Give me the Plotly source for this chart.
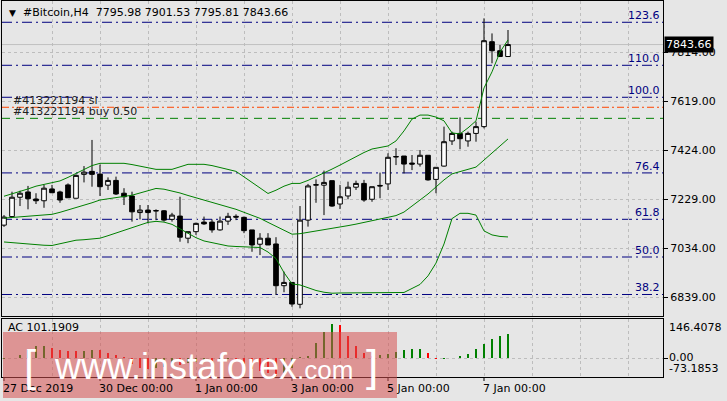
import plotly.graph_objects as go

# ---------------- data ----------------
bar_index = list(range(64))
opens = [7125, 7159, 7236, 7257, 7229, 7222, 7269, 7257, 7285, 7232,
         7327, 7339, 7328, 7284, 7303, 7252, 7241, 7175, 7185, 7181,
         7182, 7148, 7161, 7073, 7099, 7137, 7137, 7106, 7141, 7160,
         7156, 7106, 7049, 7073, 7050, 6884, 6897, 6810, 7145, 7284,
         7284, 7302, 7209, 7241, 7276, 7291, 7228, 7283, 7289, 7396,
         7400, 7372, 7368, 7403, 7307, 7360, 7460, 7490, 7460, 7490,
         7517, 7855, 7819, 7795.98]
highs = [7165, 7258, 7262, 7281, 7252, 7285, 7285, 7262, 7291, 7327,
         7360, 7464, 7366, 7315, 7318, 7272, 7258, 7205, 7205, 7188,
         7185, 7174, 7238, 7099, 7135, 7159, 7148, 7159, 7174, 7168,
         7159, 7106, 7093, 7093, 7077, 6940, 6897, 7201, 7289, 7307,
         7342, 7302, 7285, 7298, 7302, 7305, 7278, 7334, 7411, 7431,
         7400, 7404, 7424, 7403, 7355, 7517, 7497, 7554, 7497, 7537,
         7948, 7888, 7842, 7901.53]
lows = [7118, 7157, 7201, 7188, 7209, 7194, 7254, 7214, 7234, 7232,
        7295, 7278, 7241, 7265, 7245, 7205, 7139, 7148, 7132, 7145,
        7139, 7139, 7059, 7053, 7086, 7126, 7095, 7103, 7126, 7145,
        7093, 7019, 7006, 7046, 6847, 6858, 6800, 6794, 7119, 7214,
        7165, 7198, 7189, 7228, 7265, 7218, 7218, 7232, 7265, 7364,
        7331, 7344, 7358, 7302, 7252, 7358, 7444, 7427, 7437, 7457,
        7510, 7769, 7795, 7795.81]
closes = [7157, 7236, 7252, 7230, 7222, 7272, 7254, 7225, 7234, 7323,
          7336, 7327, 7278, 7303, 7249, 7238, 7178, 7185, 7175, 7183,
          7145, 7165, 7077, 7099, 7132, 7130, 7106, 7141, 7160, 7157,
          7103, 7046, 7073, 7046, 6884, 6897, 6811, 7145, 7281, 7286,
          7295, 7201, 7238, 7276, 7291, 7225, 7278, 7281, 7395, 7398,
          7368, 7368, 7403, 7305, 7355, 7457, 7490, 7469, 7490, 7517,
          7859, 7819, 7796, 7843.66]

bb_upper = [7240, 7249, 7258, 7269, 7280, 7287, 7294, 7301, 7315, 7330,
            7346, 7362, 7371, 7371, 7371, 7371, 7366, 7359, 7352, 7347,
            7347, 7347, 7357, 7367, 7367, 7367, 7362, 7355, 7348, 7339,
            7317, 7295, 7270, 7251, 7264, 7280, 7291, 7291, 7303, 7317,
            7332, 7348, 7364, 7381, 7398, 7414, 7428, 7434, 7440, 7460,
            7500, 7547, 7563, 7563, 7555, 7540, 7492, 7488, 7512, 7540,
            7671, 7735, 7814, 7862]
bb_middle = [7153, 7155, 7158, 7160, 7162, 7164, 7168, 7176, 7185, 7194,
             7204, 7214, 7225, 7230, 7235, 7239, 7244, 7253, 7262, 7271,
             7268, 7262, 7253, 7243, 7234, 7225, 7216, 7208, 7198, 7188,
             7176, 7165, 7152, 7136, 7120, 7105, 7089, 7091, 7096, 7100,
             7105, 7111, 7117, 7123, 7129, 7136, 7142, 7148, 7154, 7163,
             7177, 7201, 7225, 7249, 7277, 7305, 7329, 7337, 7346, 7356,
             7384, 7412, 7440, 7468]
bb_lower = [7058, 7055, 7053, 7050, 7048, 7045, 7044, 7051, 7057, 7065,
            7067, 7070, 7073, 7083, 7093, 7103, 7114, 7125, 7136, 7140,
            7137, 7128, 7110, 7091, 7075, 7062, 7055, 7048, 7042, 7040,
            7039, 7037, 7036, 7018, 6992, 6936, 6891, 6887, 6876, 6865,
            6858, 6854, 6855, 6855, 6855, 6855, 6855, 6855, 6855, 6855,
            6857, 6873, 6889, 6923, 6974, 7050, 7151, 7172, 7172, 7165,
            7102, 7086, 7080, 7078]

ac_values = [-5, 3, 16, 33, 51, 52, 45, 33, 31, 29,
             32, 37, 35, 23, 13, 5, -24, -40, -45, -42,
             -37, -24, -28, -20, -15, -10, -12, -8, -5, -10,
             -25, -45, -55, -60, -73.1853, -60, -40, 5, 8, 63,
             112, 146.4078, 139, 93, 51, 24, 10, 12, 18, 28,
             35, 39, 40, 21, -4, -2, 0.5, 10, 18, 39,
             60, 82, 95, 101.1909]

price_ticks = [6839, 7034, 7229, 7424, 7619, 7814]
price_tick_labels = ["6839.00", "7034.00", "7229.00", "7424.00", "7619.00", "7814.00"]

fib_levels = [7932.3, 7761.1, 7633.8, 7332.8, 7148.2, 6998.2, 6849.0]
fib_labels = ["123.6", "110.0", "100.0", "76.4", "61.8", "50.0", "38.2"]

order_sl_price = 7594
order_buy_price = 7550
order_sl_text = "#413221194 sl"
order_buy_text = "#413221194 buy 0.50"

date_tick_index = [0, 12, 24, 36, 48, 60]
date_tick_labels = ["27 Dec 2019", "30 Dec 00:00", "1 Jan 00:00", "3 Jan 00:00",
                    "5 Jan 00:00", "7 Jan 00:00"]
grid_index = [6, 12, 18, 24, 30, 36, 42, 48, 54, 60, 66, 72, 78]

symbol_text = "#Bitcoin,H4"
last_ohlc = ["7795.98", "7901.53", "7795.81", "7843.66"]
last_price = 7843.66
ac_name = "AC"
ac_current = "101.1909"
ac_scale_labels = ["146.4078", "0.00", "-73.1853"]

# ---------------- geometry ----------------
W, H = 727, 401
ML, MR, MT, MB = 2, 64, 1, 24
PW, PH = W - ML - MR, H - MT - MB


def px_x(p):
    return (p - ML) / PW


def px_y(p):
    return (H - MB - p) / PH


BG = "#E6E6E6"
GRID = "#BDBDBD"
NAVY = "#000080"
FONT = "DejaVu Sans"

fig = go.Figure()

fig.add_trace(go.Candlestick(
    x=bar_index, open=opens, high=highs, low=lows, close=closes,
    increasing=dict(fillcolor="white", line=dict(color="black", width=1)),
    decreasing=dict(fillcolor="black", line=dict(color="black", width=1)),
    whiskerwidth=0, xaxis="x", yaxis="y", showlegend=False, hoverinfo="skip"))

for band in (bb_upper, bb_middle, bb_lower):
    fig.add_trace(go.Scatter(x=bar_index, y=band, mode="lines",
                             line=dict(color="#008000", width=1),
                             xaxis="x", yaxis="y", showlegend=False, hoverinfo="skip"))

ac_colors = ["#008000"] + ["#008000" if ac_values[k] > ac_values[k - 1] else "#FF0000"
                           for k in range(1, len(ac_values))]
fig.add_trace(go.Bar(x=bar_index, y=ac_values, marker=dict(color=ac_colors, line=dict(width=0)),
                     width=0.14, xaxis="x2", yaxis="y2", showlegend=False, hoverinfo="skip"))

shapes = []
shapes.append(dict(type="line", xref="x domain", x0=0, x1=1, yref="y", y0=last_price, y1=last_price,
                   line=dict(color="#C0C0C0", width=1), layer="below"))
for lv in fib_levels:
    shapes.append(dict(type="line", xref="x domain", x0=0, x1=1, yref="y", y0=lv, y1=lv,
                       line=dict(color=NAVY, width=1, dash="10px,4px,2px,4px"), layer="below"))
shapes.append(dict(type="line", xref="x domain", x0=0, x1=1, yref="y",
                   y0=order_sl_price, y1=order_sl_price,
                   line=dict(color="#FF4500", width=1, dash="7px,3px,2px,3px"), layer="below"))
shapes.append(dict(type="line", xref="x domain", x0=0, x1=1, yref="y",
                   y0=order_buy_price, y1=order_buy_price,
                   line=dict(color="#008000", width=1, dash="8px,6px"), layer="below"))
for xi in date_tick_index:
    shapes.append(dict(type="line", xref="x2", x0=xi, x1=xi, yref="paper", y0=0, y1=-4 / PH,
                       line=dict(color="black", width=1)))
shapes.append(dict(type="rect", xref="paper", yref="paper",
                   x0=px_x(3), x1=px_x(397), y0=px_y(398), y1=px_y(332),
                   fillcolor="rgba(214,80,80,0.55)", line=dict(width=0), layer="above"))

ann = []
ann.append(dict(xref="paper", yref="paper", x=px_x(7), y=px_y(13), text="▼", showarrow=False,
                xanchor="left", yanchor="middle", font=dict(family=FONT, size=9, color="black")))
ann.append(dict(xref="paper", yref="paper", x=px_x(21), y=px_y(13),
                text=symbol_text + "\u00a0\u00a0" + " ".join(last_ohlc), showarrow=False,
                xanchor="left", yanchor="middle", font=dict(family=FONT, size=11, color="black")))
for lv, lab in zip(fib_levels, fib_labels):
    ann.append(dict(xref="paper", yref="y", x=px_x(662), y=lv, text=lab, showarrow=False,
                    xanchor="right", yanchor="bottom", yshift=-2,
                    font=dict(family=FONT, size=11, color=NAVY)))
ann.append(dict(xref="paper", yref="y", x=px_x(11), y=order_sl_price, text=order_sl_text,
                showarrow=False, xanchor="left", yanchor="bottom", yshift=-2,
                font=dict(family=FONT, size=11, color="#202020")))
ann.append(dict(xref="paper", yref="y", x=px_x(11), y=order_buy_price, text=order_buy_text,
                showarrow=False, xanchor="left", yanchor="bottom", yshift=-2,
                font=dict(family=FONT, size=11, color="#202020")))
ann.append(dict(xref="paper", yref="y", x=px_x(664), y=last_price, text=last_ohlc[3],
                showarrow=False, xanchor="left", yanchor="middle", bgcolor="black", borderpad=1,
                font=dict(family=FONT, size=11, color="white")))
ann.append(dict(xref="paper", yref="paper", x=px_x(6), y=px_y(327), text=ac_name + " " + ac_current,
                showarrow=False, xanchor="left", yanchor="middle",
                font=dict(family=FONT, size=11, color="black")))
for lab, yp in zip(ac_scale_labels, [327, 357, 368]):
    ann.append(dict(xref="paper", yref="paper", x=px_x(667), y=px_y(yp), text=lab,
                    showarrow=False, xanchor="left", yanchor="middle",
                    font=dict(family=FONT, size=11, color="black")))
for xi, lab in zip(date_tick_index, date_tick_labels):
    ann.append(dict(xref="x2", yref="paper", x=xi, y=px_y(388), text=lab, showarrow=False,
                    xanchor="left", yanchor="middle", xshift=-3,
                    font=dict(family=FONT, size=11, color="black")))
ann.append(dict(xref="paper", yref="paper", x=px_x(22), y=px_y(365), text="[", showarrow=False,
                xanchor="left", yanchor="middle", font=dict(family="Liberation Sans", size=44, color="white")))
ann.append(dict(xref="paper", yref="paper", x=px_x(52), y=px_y(366),
                text="www.instaforex<span style='font-size:26px'>.com</span>", showarrow=False,
                xanchor="left", yanchor="middle", font=dict(family="Liberation Sans", size=36, color="white")))
ann.append(dict(xref="paper", yref="paper", x=px_x(364), y=px_y(365), text="]", showarrow=False,
                xanchor="left", yanchor="middle", font=dict(family="Liberation Sans", size=44, color="white")))

x_range = [-0.25, -0.25 + PW / 8]
main_dom = [px_y(316), 1]
ac_dom = [0, px_y(319)]
ymin = 7034 - (316 - 248) * 3.9796
ymax = 7034 + (248 - MT) * 3.9796
ac_scale = 146.4078 / 34.8
ac_rng = [-(377 - 358.3) * ac_scale, (358.3 - 319) * ac_scale]

axis_common = dict(showline=True, mirror=True, linecolor="black", linewidth=1, zeroline=False)
fig.update_layout(
    width=W, height=H, margin=dict(l=ML, r=MR, t=MT, b=MB),
    paper_bgcolor=BG, plot_bgcolor=BG, showlegend=False, bargap=0,
    boxgap=0.42, boxgroupgap=0,
    xaxis=dict(domain=[0, 1], anchor="y", range=x_range, tickmode="array", tickvals=grid_index,
               showticklabels=False, ticks="", showgrid=True, gridcolor=GRID, griddash="3px,3px",
               gridwidth=1, rangeslider=dict(visible=False), **axis_common),
    yaxis=dict(domain=main_dom, anchor="x", side="right", range=[ymin, ymax], tickmode="array",
               tickvals=price_ticks, ticktext=price_tick_labels, ticks="outside", ticklen=4,
               tickcolor="black", showgrid=True, gridcolor=GRID, griddash="3px,3px",
               tickfont=dict(family=FONT, size=11, color="black"), **axis_common),
    xaxis2=dict(domain=[0, 1], anchor="y2", range=x_range, matches="x", tickmode="array",
                tickvals=grid_index, showticklabels=False, ticks="", showgrid=True, gridcolor=GRID,
                griddash="3px,3px", **axis_common),
    yaxis2=dict(domain=ac_dom, anchor="x2", side="right", range=ac_rng, tickmode="array",
                tickvals=[0], showticklabels=False, ticks="outside", ticklen=4, tickcolor="black",
                showgrid=True, gridcolor=GRID, griddash="3px,3px", **axis_common),
    shapes=shapes, annotations=ann,
)

fig.write_html("out.html", config={"displayModeBar": False, "staticPlot": True},
               post_script="document.body.style.margin='0px';document.body.style.padding='0px';")
